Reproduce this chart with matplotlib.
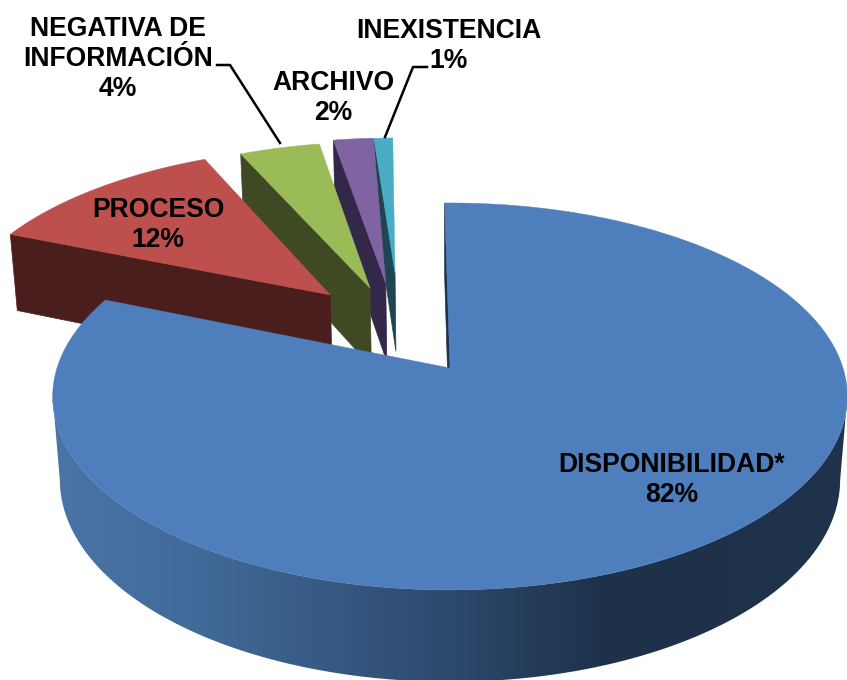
import numpy as np
import matplotlib
matplotlib.use('Agg')
import matplotlib.pyplot as plt
from matplotlib.colors import LinearSegmentedColormap
from matplotlib.patches import Polygon

# Data
categories = ['DISPONIBILIDAD*', 'PROCESO', 'NEGATIVA DE\nINFORMACIÓN', 'ARCHIVO', 'INEXISTENCIA']
values = [82, 12, 4, 2, 1]

# Look of the slices
top_colors = ['#4e7ebb', '#bd4f4c', '#9bbb59', '#8064a2', '#4bacc6']
wall_colors = ['#1d3149', '#4b1e1e', '#3f4a24', '#33274a', '#1d4652']
explode_u = [0.0, -0.323, -0.217, -0.175, -0.151]
explode_v = [0.0, 0.409, 0.45, 0.48, 0.54]
radius = [1, 1, 1, 1, 0.94]
start_shift = [-0.9, 0, 0, 0, -1.6]
end_shift = [0, 0, 0, 0, -1.6]
label_x = [672, 158, 118, 333, 449]
label_y = [480, 225, 59, 98, 46]

# Perspective of the pie, in pixels
cx, cy = 450, 368
rad_x, rad_y = 393, 189.3
persp = 0.147
depth_y, depth_w = 84, 0.018


def project(u, v, z=0.0):
    w = 1 + persp * v + depth_w * z
    return cx + rad_x * u / w, cy + (-rad_y * v + depth_y * z) / w


def wall(p_u, p_v):
    xt, yt = project(p_u, p_v)
    xb, yb = project(p_u, p_v, 1.0)
    return np.r_[np.c_[xt, yt], np.c_[xb, yb][::-1]]


plt.rcParams['font.family'] = ['Liberation Sans', 'DejaVu Sans']

fig = plt.figure(figsize=(8.47, 6.80), dpi=100)
ax = fig.add_axes([0, 0, 1, 1])

fracs = np.array(values) / np.sum(values)
ends = np.cumsum(fracs) * 2 * np.pi + np.radians(end_shift)
starts = np.cumsum(fracs) * 2 * np.pi - fracs * 2 * np.pi + np.radians(start_shift)

shade = LinearSegmentedColormap.from_list(
    'shade', [(0, '#4d78ab'), (0.22, '#426b9b'), (0.5, '#2f4d72'), (0.72, '#1d3149'), (1, '#1f334d')])

# back slices first, the big one last so it covers them
for i in [4, 3, 2, 1, 0]:
    du, dv, r = explode_u[i], explode_v[i], radius[i]
    t = np.linspace(starts[i], ends[i], 200)
    base = (5 - i) * 2

    # cut face that looks at the viewer
    s = np.array([0, r])
    ax.add_patch(Polygon(wall(du + s * np.sin(starts[i]), dv + s * np.cos(starts[i])),
                         fc=wall_colors[i], ec=wall_colors[i], lw=0.5, zorder=base))

    # outer wall of the big slice, horizontal gradient clipped to the wall
    if i == 0:
        # the silhouette runs between the two points of widest x on the top ellipse
        side = np.arccos(-persp)
        arc = np.linspace(side, 2 * np.pi - side, 300)
        im = ax.imshow(np.linspace(0, 1, 847)[None, :], cmap=shade, extent=(0, 847, 680, 0),
                       aspect='auto', zorder=base)
        clip = Polygon(wall(du + np.sin(arc), dv + np.cos(arc)), transform=ax.transData)
        im.set_clip_path(clip)

    xs, ys = project(np.r_[du, du + r * np.sin(t)], np.r_[dv, dv + r * np.cos(t)])
    ax.add_patch(Polygon(np.c_[xs, ys], fc=top_colors[i], ec=top_colors[i], lw=0.3, zorder=base + 1))

ax.set_xlim(0, 847)
ax.set_ylim(680, 0)
ax.axis('off')

# leader lines
ax.plot([217, 230, 280], [65, 65, 143], color='black', lw=1.8, zorder=20)
ax.plot([427, 413, 385], [67, 67, 137], color='black', lw=1.8, zorder=20)

for name, val, x, y in zip(categories, values, label_x, label_y):
    ax.text(x, y, f'{name}\n{val}%', ha='center', va='center', fontsize=19.1,
            fontweight='bold', color='black', linespacing=1.175, zorder=21)

fig.savefig('out.png', dpi=100)
